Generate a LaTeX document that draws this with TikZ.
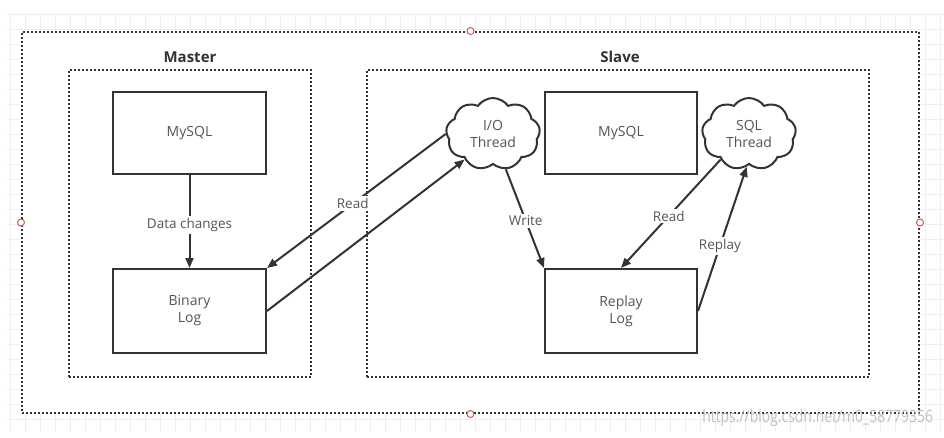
\documentclass[tikz,border=0pt]{standalone}
\usepackage{fontspec}
\setmainfont{Open Sans}
\usetikzlibrary{shapes.symbols,arrows.meta}
\definecolor{ink}{HTML}{333333}
\definecolor{txt}{HTML}{555555}
\definecolor{gridc}{HTML}{EEEEEE}
\definecolor{handle}{HTML}{B85450}
\begin{document}
\begin{tikzpicture}[x=1pt,y=-1pt,
  gridline/.style={draw=gridc, line width=0.7pt},
  dotframe/.style={draw=ink, line width=2pt, dash pattern=on 2pt off 2pt, inner sep=0pt},
  box/.style={draw=ink, line width=2pt, minimum width=153pt, minimum height=82pt, inner sep=0pt,
              font=\fontsize{14}{17}\selectfont, text=txt, align=center},
  thread/.style={draw=ink, line width=2pt, cloud, cloud puffs=9, cloud puff arc=110, aspect=1.33,
              minimum width=94pt, minimum height=72pt, inner sep=0pt,
              font=\fontsize{14}{17}\selectfont, text=txt, align=center},
  title/.style={font=\bfseries\fontsize{15}{18}\selectfont, text=ink},
  conn/.style={draw=ink, line width=2pt, -{Triangle[length=10pt,width=8pt]}},
  lbl/.style={fill=white, inner sep=2pt, font=\fontsize{13.5}{16}\selectfont, text=txt},
  knob/.style={draw=handle, fill=white, line width=0.9pt, circle, minimum size=7pt, inner sep=0pt}
]
\useasboundingbox (0,0) rectangle (944,437);
% background grid
\foreach \gx in {10,25,...,940} \draw[gridline] (\gx,15) -- (\gx,432);
\foreach \gy in {14,29,...,430} \draw[gridline] (7,\gy) -- (944,\gy);
% outer frame
\node[dotframe, fill=white, minimum width=897pt, minimum height=381pt] (outer) at (470.5,222.5) {};
% containers
\node[dotframe, minimum width=242pt, minimum height=307pt] (master) at (190,223.5) {};
\node[dotframe, minimum width=502pt, minimum height=307pt] (slave) at (618,223.5) {};
\node[title] (mtitle) at (190,57) {Master};
\node[title] (stitle) at (620,57) {Slave};
% boxes
\node[box] (mysqlM) at (189.5,133) {MySQL};
\node[box, minimum height=84pt] (binlog) at (189.5,311) {Binary\\Log};
\node[box, minimum width=152pt] (mysqlS) at (621,133) {MySQL};
\node[box, minimum width=152pt, minimum height=84pt] (relay) at (621,311) {Replay\\Log};
% threads
\node[thread] (io) at (493,134) {I/O\\Thread};
\node[thread] (sql) at (749,134) {SQL\\Thread};
% connectors
\draw[conn] (mysqlM.south) -- node[lbl, pos=0.54] {Data changes} (binlog.north);
\draw[conn] (io.west) -- node[lbl, pos=0.52] {Read} (binlog.north east);
\draw[conn] (binlog.east) -- (io.222);
\draw[conn] (io.290) -- node[lbl, pos=0.52] {Write} (relay.north west);
\draw[conn] (sql.222) -- node[lbl, pos=0.52] {Read} (relay.north);
\draw[conn] (relay.east) -- node[lbl, pos=0.45] {Replay} (sql.266);
% selection handles
\node[knob] (h1) at (outer.north) {};
\node[knob] (h2) at (outer.south) {};
\node[knob] (h3) at (outer.west) {};
\node[knob] (h4) at (outer.east) {};
% watermark
\node[text=black!25, font=\fontsize{17}{17}\selectfont, xscale=0.82, anchor=east] (wm) at (936,418) {https://blog.csdn.net/m0\_58779356};
\end{tikzpicture}
\end{document}
